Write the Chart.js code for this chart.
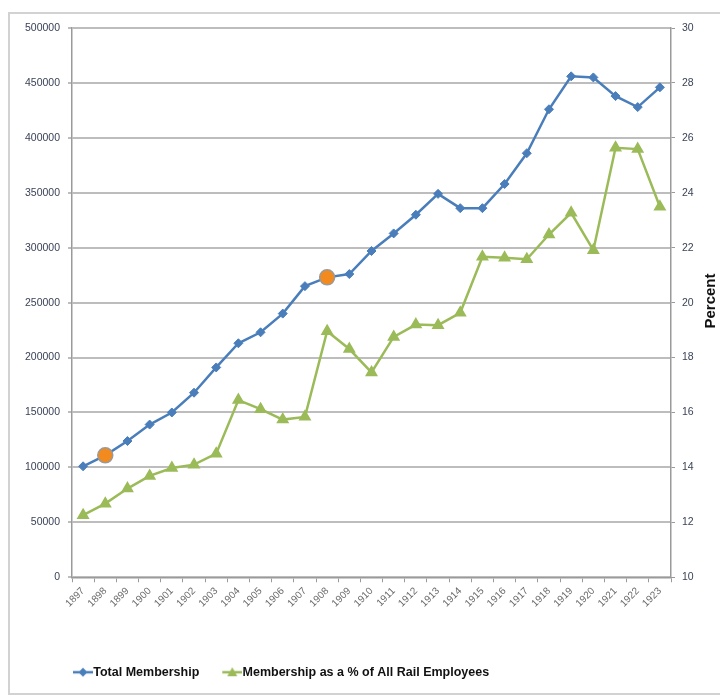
<!DOCTYPE html>
<html>
<head>
<meta charset="utf-8">
<script src="https://cdn.jsdelivr.net/npm/chart.js@4.4.1/dist/chart.umd.min.js"></script>
<style>
  html, body { margin: 0; padding: 0; background: #fff; }
  #wrap { position: relative; width: 720px; height: 700px; overflow: hidden; }
  #frame { position: absolute; left: 8px; top: 12px; width: 730px; height: 683px; border: 2px solid #d2d2d2; box-sizing: border-box; }
  canvas { position: absolute; left: 0; top: 0; }
</style>
</head>
<body>
<div id="wrap">
  <div id="frame"></div>
  <canvas id="chart" width="720" height="700"></canvas>
</div>
<script>
const years = ['1897', '1898', '1899', '1900', '1901', '1902', '1903', '1904', '1905', '1906', '1907', '1908', '1909',
  '1910', '1911', '1912', '1913', '1914', '1915', '1916', '1917', '1918', '1919', '1920', '1921', '1922', '1923'];

const totalMembership = [101000, 111000, 124000, 139000, 150000, 168000, 191000, 213000, 223000, 240000, 265000, 273000, 276000,
  297000, 313000, 330000, 349000, 336000, 336000, 358000, 386000, 426000, 456000, 455000, 438000, 428000, 446000];

const pctOfRailEmployees = [12.26, 12.68, 13.23, 13.69, 13.98, 14.1, 14.5, 16.45, 16.12, 15.74, 15.84, 18.96, 18.31,
  17.46, 18.75, 19.2, 19.18, 19.63, 21.67, 21.63, 21.58, 22.48, 23.27, 21.91, 25.64, 25.59, 23.49];

// years marked with the big orange dot
const highlightYears = ['1898', '1908'];

const BLUE = '#4a7ebb';
const GREEN = '#9bbb59';
const ORANGE = '#f28a1e';
const GRID = '#bdbdbd';
const AXIS = '#9a9a9a';
const LABEL_FONT = "'Liberation Sans', Arial, sans-serif";

const isHighlight = ctx => ctx.dataset.highlight && highlightYears.includes(years[ctx.dataIndex]);

// legend swatch: transparent on the left, line + marker in the right 20px
function legendSwatch(color, style) {
  const c = document.createElement('canvas');
  c.width = 39; c.height = 12;
  const g = c.getContext('2d');
  g.strokeStyle = color;
  g.lineWidth = 2.5;
  g.beginPath(); g.moveTo(19, 6); g.lineTo(39, 6); g.stroke();
  g.fillStyle = color;
  g.beginPath();
  if (style === 'diamond') {
    g.moveTo(29, 1.5); g.lineTo(33.5, 6); g.lineTo(29, 10.5); g.lineTo(24.5, 6);
  } else {
    g.moveTo(29, 1); g.lineTo(34, 10); g.lineTo(24, 10);
  }
  g.closePath(); g.fill();
  return c;
}

const percentTitle = {
  id: 'percentTitle',
  afterLayout(chart) {
    // legend sits left of centre in the original
    chart.legend.left += 50;
    chart.legend.right += 50;
  },
  afterDraw(chart) {
    const ctx = chart.ctx;
    ctx.save();
    ctx.translate(711, 301);
    ctx.rotate(-Math.PI / 2);
    ctx.font = "bold 15px 'Liberation Sans', Arial, sans-serif";
    ctx.fillStyle = '#111';
    ctx.textAlign = 'center';
    ctx.textBaseline = 'middle';
    ctx.fillText('Percent', 0, 0);
    ctx.restore();
  }
};

new Chart(document.getElementById('chart'), {
  type: 'line',
  data: {
    labels: years,
    datasets: [{
      label: 'Total Membership',
      data: totalMembership,
      yAxisID: 'y',
      highlight: true,
      borderColor: BLUE,
      borderWidth: 2.5,
      pointStyle: ctx => isHighlight(ctx) ? 'circle' : 'rectRot',
      pointRadius: ctx => isHighlight(ctx) ? 7.5 : 4.5,
      pointBackgroundColor: ctx => isHighlight(ctx) ? ORANGE : BLUE,
      pointBorderColor: ctx => isHighlight(ctx) ? '#9a9a9a' : BLUE,
      pointBorderWidth: ctx => isHighlight(ctx) ? 1.5 : 1,
      tension: 0,
    }, {
      label: 'Membership as a % of All Rail Employees',
      data: pctOfRailEmployees,
      yAxisID: 'y1',
      borderColor: GREEN,
      borderWidth: 2.5,
      pointStyle: 'triangle',
      pointRadius: 5,
      pointBackgroundColor: GREEN,
      pointBorderColor: GREEN,
      tension: 0,
    }],
  },
  options: {
    responsive: false,
    animation: false,
    layout: { padding: { top: 28, left: 0, right: 0, bottom: 11.5 } },
    plugins: {
      tooltip: { enabled: false },
      legend: {
        position: 'bottom',
        align: 'start',
        labels: {
          usePointStyle: true,
          pointStyleWidth: 27,
          padding: 10,
          color: '#111',
          font: { family: LABEL_FONT, size: 12.5, weight: 'bold' },
          generateLabels: chart => chart.data.datasets.map((ds, i) => ({
            text: ds.label,
            datasetIndex: i,
            fontColor: '#111',
            lineWidth: 0,
            strokeStyle: 'transparent',
            fillStyle: 'transparent',
            pointStyle: legendSwatch(ds.borderColor, i === 0 ? 'diamond' : 'triangle'),
          })),
        },
      },
    },
    scales: {
      x: {
        offset: true,
        grid: { display: true, drawOnChartArea: false, offset: true, tickLength: 5, color: AXIS },
        border: { color: AXIS, width: 1.5 },
        ticks: {
          autoSkip: false,
          maxRotation: 45,
          minRotation: 45,
          padding: 3,
          color: '#6a6a6a',
          font: { family: LABEL_FONT, size: 10 },
        },
        afterFit: scale => { scale.height = 78.75; },
      },
      y: {
        position: 'left',
        min: 0,
        max: 500000,
        grid: { color: GRID, lineWidth: 2, tickLength: 4 },
        border: { color: AXIS, width: 1.5 },
        ticks: {
          stepSize: 50000,
          padding: 8,
          color: '#3a4257',
          font: { family: LABEL_FONT, size: 10.5 },
          callback: v => String(v),
        },
        afterFit: scale => { scale.width = 72; },
      },
      y1: {
        position: 'right',
        min: 10,
        max: 30,
        grid: { drawOnChartArea: false, tickLength: 4, color: AXIS },
        border: { color: AXIS, width: 1.5 },
        ticks: {
          stepSize: 2,
          padding: 7,
          color: '#3a4257',
          font: { family: LABEL_FONT, size: 10.5 },
        },
        afterFit: scale => { scale.width = 49; },
      },
    },
  },
  plugins: [percentTitle],
});
</script>
</body>
</html>
